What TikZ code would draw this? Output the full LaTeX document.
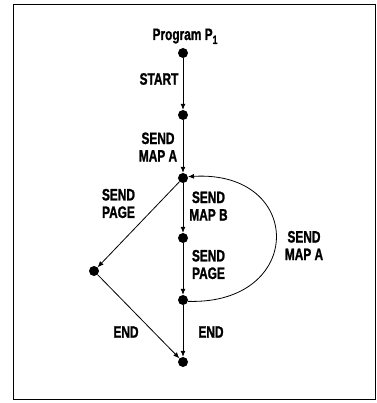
\documentclass[tikz,border=0pt]{standalone}
\usepackage{fontspec}
\setmainfont{Liberation Sans}[FakeStretch=0.72,BoldFeatures={FakeBold=1.2}]
\usetikzlibrary{arrows.meta}
\begin{document}
\begin{tikzpicture}[x=1pt,y=-1pt,
 st/.style={circle,fill=black,inner sep=0pt,minimum size=10pt},
 lbl/.style={font=\bfseries\fontsize{16.5}{17.5}\selectfont,align=center,inner sep=0pt},
 arr/.style={line width=0.8pt,-{Latex[length=6pt,width=5pt]}}]
\useasboundingbox (0,0) rectangle (376,403);
\draw[line width=0.8pt] (13,4) rectangle (375.5,399.5);
% states
\node[st] (n0) at (183,53) {};
\node[st] (n1) at (183,115) {};
\node[st] (n2) at (183,178) {};
\node[st] (n3) at (183,238) {};
\node[st] (n4) at (94,271) {};
\node[st] (n5) at (183,300) {};
\node[st] (n6) at (183,362) {};
% transitions
\draw[arr] (n0) -- (n1);
\draw[arr] (n1) -- (n2);
\draw[arr] (n2) -- (n3);
\draw[arr] (n3) -- (n5);
\draw[arr] (n5) -- (n6);
\draw[arr] (n2) -- (n4);
\draw[arr] (n4) -- (n6);
\draw[arr] (n5.-15) .. controls (305,305) and (305,170) .. (n2.15);
% labels
\node[lbl,anchor=base] (title) at (185,40) {Program P\raisebox{-4pt}{\fontsize{12}{12}\selectfont 1}};
\node[lbl] (l1) at (159,79) {START};
\node[lbl] (l2) at (158,147) {SEND\\MAP A};
\node[lbl] (l3) at (118.5,203.5) {SEND\\PAGE};
\node[lbl] (l4) at (208.5,206) {SEND\\MAP B};
\node[lbl] (l5) at (208.5,264.5) {SEND\\PAGE};
\node[lbl] (l6) at (304,245.5) {SEND\\MAP A};
\node[lbl] (l7) at (126,332) {END};
\node[lbl] (l8) at (211,332) {END};
\end{tikzpicture}
\end{document}
